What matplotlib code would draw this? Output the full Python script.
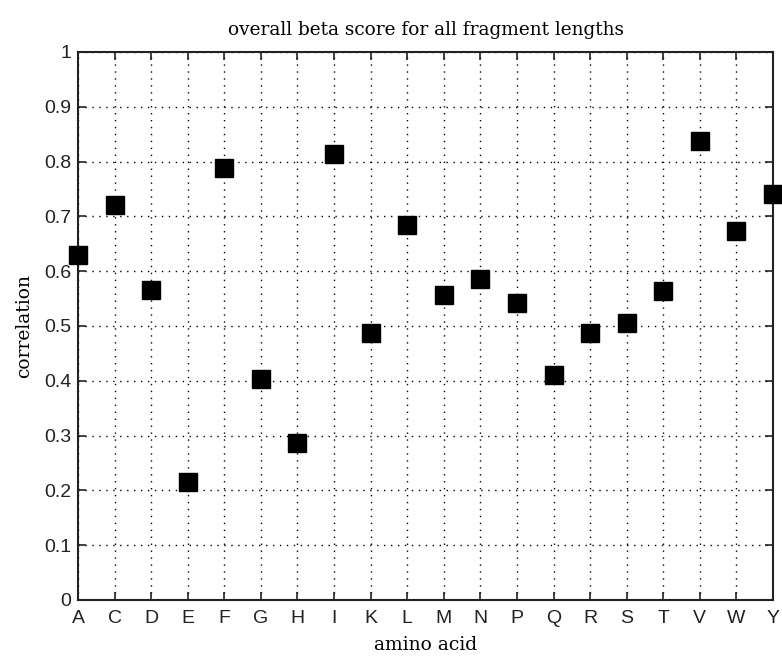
import matplotlib
matplotlib.use("Agg")
import matplotlib.pyplot as plt

amino_acids = ["A", "C", "D", "E", "F", "G", "H", "I", "K", "L",
               "M", "N", "P", "Q", "R", "S", "T", "V", "W", "Y"]
correlation = [0.629, 0.720, 0.565, 0.215, 0.788, 0.404, 0.286, 0.814, 0.488, 0.685,
               0.556, 0.585, 0.542, 0.411, 0.488, 0.505, 0.563, 0.838, 0.673, 0.740]
y_ticks = [0, 0.1, 0.2, 0.3, 0.4, 0.5, 0.6, 0.7, 0.8, 0.9, 1]
y_tick_labels = ["0", "0.1", "0.2", "0.3", "0.4", "0.5", "0.6", "0.7", "0.8", "0.9", "1"]

x = list(range(1, len(amino_acids) + 1))

fig = plt.figure(figsize=(7.82, 6.58), dpi=100)
ax = fig.add_axes([78 / 782, 58 / 658, 695 / 782, 548 / 658])

ax.plot(x, correlation, linestyle="none", marker="s", markersize=12.5,
        color="black", zorder=3, clip_on=False)

ax.set_xlim(1, len(amino_acids))
ax.set_ylim(0, 1)
ax.set_xticks(x)
ax.set_xticklabels(amino_acids, fontfamily="Liberation Sans", fontsize=14)
ax.set_yticks(y_ticks)
ax.set_yticklabels(y_tick_labels, fontfamily="Liberation Sans", fontsize=14)

ax.tick_params(direction="in", length=6, width=1.2, top=True, right=True,
               colors="#222222", labelcolor="#222222")
ax.tick_params(axis="x", pad=7)
ax.tick_params(axis="y", pad=5)
ax.grid(True, linestyle=(0, (1, 4)), color="black", linewidth=1.0)
for s in ax.spines.values():
    s.set_linewidth(1.5)
    s.set_color("#222222")

serif = "DejaVu Serif"
ax.set_title("overall beta score for all fragment lengths",
             fontfamily=serif, fontsize=13.3, pad=12)
ax.set_xlabel("amino acid", fontfamily=serif, fontsize=13.5, labelpad=7)
ax.set_ylabel("correlation", fontfamily=serif, fontsize=13.5, labelpad=8)

fig.savefig("out.png", dpi=100)
